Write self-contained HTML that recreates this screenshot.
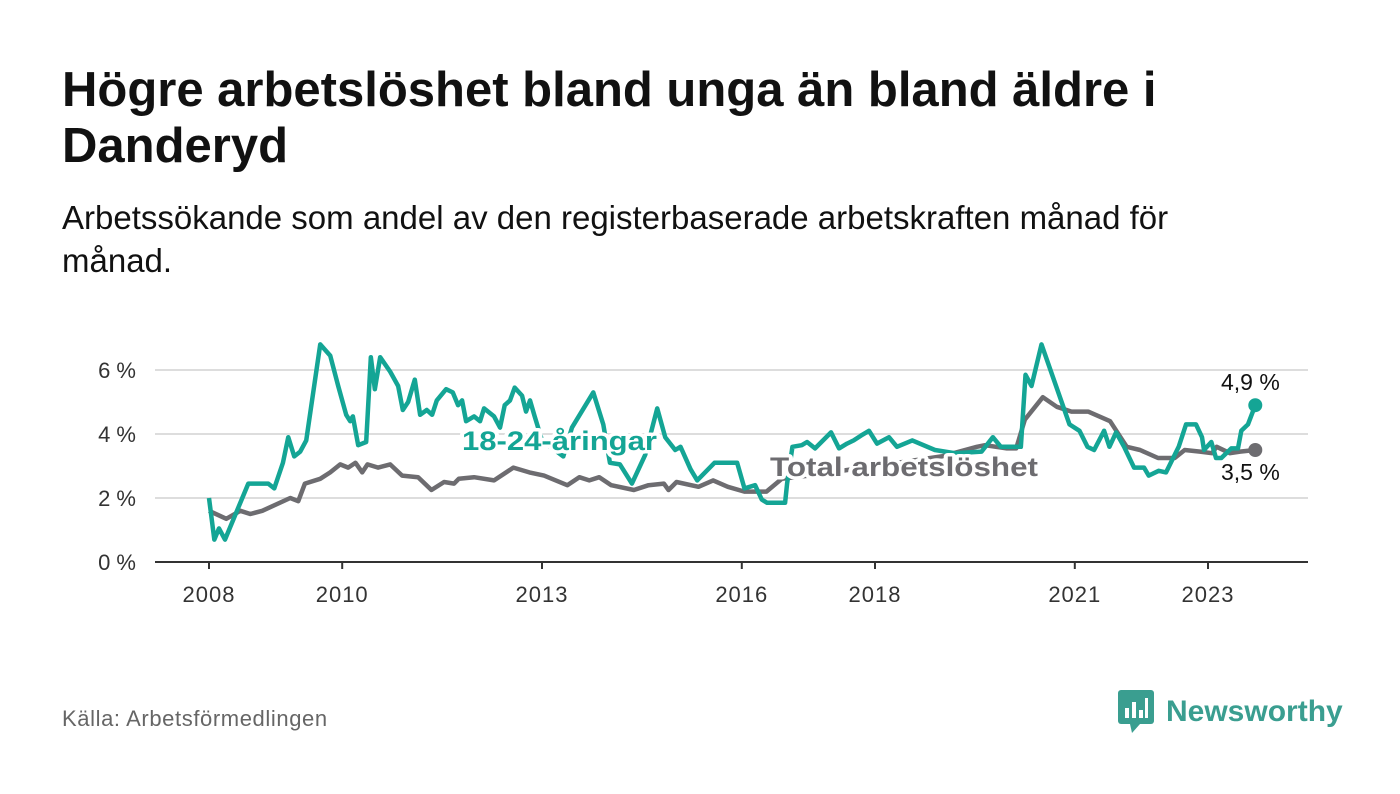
<!DOCTYPE html>
<html><head><meta charset="utf-8">
<style>
body{margin:0;background:#fff;font-family:"Liberation Sans","DejaVu Sans",sans-serif;}
#wrap{position:relative;width:1400px;height:794px;overflow:hidden;background:#fff}
h1{position:absolute;left:62px;top:62px;margin:0;font-size:49px;line-height:56px;font-weight:bold;color:#111;width:1200px}
.sub{position:absolute;left:62px;top:196px;margin:0;font-size:33px;line-height:43px;color:#111;width:1190px}
.src{position:absolute;left:62px;top:706px;font-size:22px;letter-spacing:0.6px;color:#666}
.logo{position:absolute;left:1118px;top:690px;display:flex;align-items:center}
.logo span{font-size:30px;font-weight:bold;color:#3a9e90;margin-left:12px}
</style></head><body>
<div id="wrap">
<h1>Högre arbetslöshet bland unga än bland äldre i Danderyd</h1>
<p class="sub">Arbetssökande som andel av den registerbaserade arbetskraften månad för månad.</p>
<svg id="chart" width="1400" height="794" style="position:absolute;left:0;top:0"></svg>
<div class="src">Källa: Arbetsförmedlingen</div>
<div class="logo">
<svg width="36" height="44" viewBox="0 0 36 44"><rect x="0" y="0" width="36" height="34" rx="3" fill="#3a9e90"/><polygon points="12,34 22,34 14,43" fill="#3a9e90"/><rect x="7" y="18" width="4" height="10" fill="#fff"/><rect x="14" y="12" width="4" height="16" fill="#fff"/><rect x="21" y="20" width="4" height="8" fill="#fff"/><rect x="27" y="8" width="3" height="20" fill="#fff"/></svg>
<span>Newsworthy</span></div>
</div>
<script>
const yTicks=[0,2,4,6];
const yTickLabels=["0 %","2 %","4 %","6 %"];
const xTicks=[2008,2010,2013,2016,2018,2021,2023];
const youthX=[
2008.00,2008.08,2008.15,2008.24,2008.39,2008.59,2008.89,2008.98,2009.11,2009.19,
2009.28,2009.37,2009.46,2009.67,2009.82,2009.94,2010.06,2010.12,2010.16,2010.24,
2010.36,2010.43,2010.49,2010.57,2010.72,2010.84,2010.91,2010.99,2011.09,2011.17,
2011.27,2011.35,2011.42,2011.56,2011.66,2011.74,2011.80,2011.86,2011.98,2012.07,
2012.13,2012.28,2012.37,2012.44,2012.52,2012.59,2012.70,2012.76,2012.82,2012.89,
2013.00,2013.32,2013.45,2013.77,2013.92,2014.02,2014.17,2014.35,2014.55,2014.73,
2014.85,2015.00,2015.08,2015.23,2015.33,2015.59,2015.93,2016.04,2016.20,2016.30,
2016.38,2016.65,2016.68,2016.76,2016.90,2016.98,2017.10,2017.34,2017.46,2017.58,
2017.68,2017.79,2017.91,2018.03,2018.21,2018.33,2018.56,2018.90,2019.20,2019.60,
2019.77,2019.89,2020.19,2020.26,2020.35,2020.50,2020.92,2021.07,2021.19,2021.29,
2021.44,2021.52,2021.62,2021.74,2021.89,2022.04,2022.11,2022.26,2022.37,2022.56,
2022.67,2022.82,2022.91,2022.94,2023.05,2023.12,2023.20,2023.35,2023.45,2023.50,
2023.60,2023.71];
const youthV=[
2.0,0.7,1.05,0.7,1.45,2.45,2.45,2.3,3.1,3.9,
3.3,3.45,3.8,6.8,6.45,5.5,4.6,4.4,4.55,3.65,
3.75,6.4,5.4,6.4,5.95,5.5,4.75,5.0,5.7,4.6,
4.75,4.6,5.05,5.4,5.3,4.9,5.05,4.4,4.55,4.4,
4.8,4.55,4.2,4.9,5.05,5.45,5.2,4.7,5.05,4.55,
3.8,3.3,4.2,5.3,4.3,3.1,3.05,2.45,3.35,4.8,
3.9,3.5,3.6,2.9,2.55,3.1,3.1,2.3,2.4,1.95,
1.85,1.85,2.45,3.6,3.65,3.75,3.55,4.05,3.55,3.7,
3.8,3.95,4.1,3.7,3.9,3.6,3.8,3.5,3.4,3.45,
3.9,3.6,3.6,5.85,5.5,6.8,4.3,4.1,3.6,3.5,
4.1,3.6,4.05,3.6,2.95,2.95,2.7,2.85,2.8,3.6,
4.3,4.3,3.9,3.5,3.75,3.25,3.25,3.55,3.55,4.1,
4.3,4.9];
const totalX=[2008.0,2008.26,2008.47,2008.62,2008.8,2009.22,2009.34,2009.44,2009.67,2009.82,2009.97,2010.09,2010.2,2010.3,2010.38,2010.54,2010.72,2010.9,2011.14,2011.34,2011.53,2011.68,2011.75,2011.98,2012.28,2012.57,2012.81,2013.03,2013.38,2013.56,2013.71,2013.86,2014.04,2014.38,2014.6,2014.83,2014.9,2015.02,2015.35,2015.57,2015.79,2016.04,2016.37,2016.6,2017.0,2018.0,2019.0,2019.53,2019.65,2019.98,2020.12,2020.25,2020.52,2020.73,2020.95,2021.2,2021.53,2021.78,2021.98,2022.25,2022.5,2022.65,2022.88,2023.06,2023.13,2023.33,2023.48,2023.71];
const totalV=[1.6,1.35,1.6,1.5,1.6,2.0,1.9,2.45,2.6,2.8,3.05,2.95,3.1,2.8,3.05,2.95,3.05,2.7,2.65,2.25,2.5,2.45,2.6,2.65,2.55,2.95,2.8,2.7,2.4,2.65,2.55,2.65,2.4,2.25,2.4,2.45,2.25,2.5,2.35,2.55,2.35,2.2,2.2,2.6,2.7,3.0,3.3,3.6,3.65,3.55,3.55,4.45,5.15,4.85,4.7,4.7,4.4,3.6,3.5,3.25,3.25,3.5,3.45,3.4,3.6,3.4,3.45,3.5];
const ns="http://www.w3.org/2000/svg";
const svg=document.getElementById('chart');
const X=y=>209+(y-2008)*66.6;
const Y=v=>562-v*32;
function el(t,a,p){const e=document.createElementNS(ns,t);for(const k in a)e.setAttribute(k,a[k]);(p||svg).appendChild(e);return e;}
yTicks.forEach((t,i)=>{
 if(t>0){const g=el('line',{x1:155,x2:1308,y1:Y(t),y2:Y(t),stroke:'#ddd','stroke-width':2});
 
 }
 const l=el('text',{x:136,y:Y(t)+8,'text-anchor':'end','font-size':22,fill:'#333'});l.textContent=yTickLabels[i];
 
 
});
const ax=el('line',{x1:155,x2:1308,y1:562,y2:562,stroke:'#333','stroke-width':2});


xTicks.forEach(t=>{
 const tk=el('line',{x1:X(t),x2:X(t),y1:562,y2:569,stroke:'#333','stroke-width':2});
 
 
 const l=el('text',{x:X(t),y:602,'text-anchor':'middle','font-size':22,'letter-spacing':1,fill:'#333'});l.textContent=t;
 
 
});
function line(xs,vs,c,name){
 const n=Math.min(xs.length,vs.length);
 const pts=[];for(let i=0;i<n;i++)pts.push(X(xs[i])+','+Y(vs[i]));
 const p=el('polyline',{points:pts.join(' '),fill:'none',stroke:c,'stroke-width':4.5,'stroke-linejoin':'round'});
 
 
}
line(totalX,totalV,'#6d6c70','total-line');
line(youthX,youthV,'#14a595','youth-line');
function lab(x,y,txt,c,name,sz,w,len){
 const a={x:x,y:y,'font-size':sz,'font-weight':w,fill:c,stroke:'#fff','stroke-width':w=='bold'?7:5,'paint-order':'stroke','stroke-linejoin':'round'};
 if(len){a.textLength=len;a.lengthAdjust='spacingAndGlyphs';}
 const t=el('text',a);
 t.textContent=txt;
 
 
}
lab(462,450,'18-24-åringar','#14a595','youth-series-label',27,'bold',195);
lab(770,476,'Total arbetslöshet','#6d6c70','total-series-label',27,'bold',268);
const ly=youthX.length-1, lt=totalX.length-1;
const d1=el('circle',{cx:X(youthX[ly]),cy:Y(youthV[ly]),r:7,fill:'#14a595'});


const d2=el('circle',{cx:X(totalX[lt]),cy:Y(totalV[lt]),r:7,fill:'#6d6c70'});


lab(1221,Y(youthV[ly])-15,youthV[ly].toFixed(1).replace('.',',')+' %','#111','youth-end-value',23,'normal');
lab(1221,Y(totalV[lt])+30,totalV[lt].toFixed(1).replace('.',',')+' %','#111','total-end-value',23,'normal');
</script>
</body></html>
